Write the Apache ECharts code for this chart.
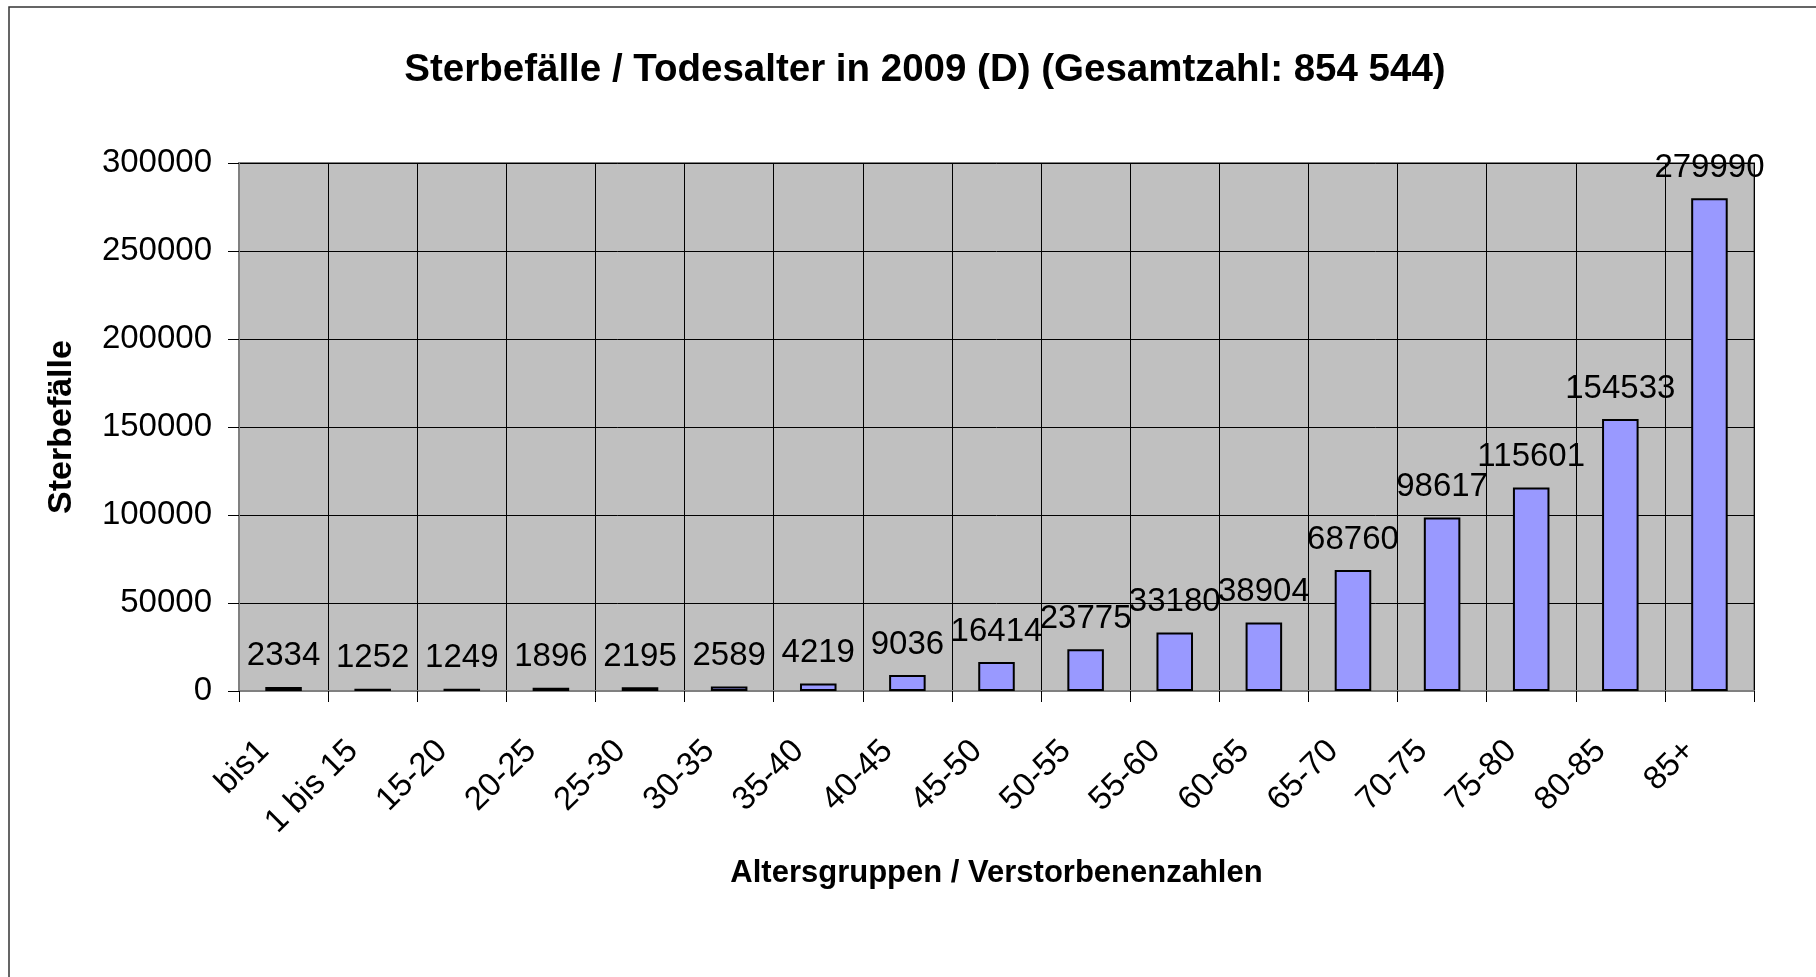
<!DOCTYPE html>
<html>
<head>
<meta charset="utf-8">
<script src="https://cdn.jsdelivr.net/npm/echarts@6/dist/echarts.min.js"></script>
<style>
  html, body { margin: 0; padding: 0; background: #fff; }
  #mainBar { width: 1816px; height: 977px; }
</style>
</head>
<body>
<div id="mainBar"></div>
<script>
// Altersgruppen
var altersgruppen = ['bis1', '1 bis 15', '15-20', '20-25', '25-30', '30-35', '35-40', '40-45', '45-50',
  '50-55', '55-60', '60-65', '65-70', '70-75', '75-80', '80-85', '85+'];
// Sterbefälle je Altersgruppe
var sterbefaelle = [2334, 1252, 1249, 1896, 2195, 2589, 4219, 9036, 16414,
  23775, 33180, 38904, 68760, 98617, 115601, 154533, 279990];
// y-Achse
var yMin = 0;
var yMax = 300000;
var yStep = 50000;

var font = 'Liberation Sans, Arial, sans-serif';

var myChart = echarts.init(document.getElementById('mainBar'));

myChart.setOption({
    backgroundColor: '#ffffff',
    animation: false,
    textStyle: { fontFamily: font },
    title: {
        text: 'Sterbefälle / Todesalter in 2009 (D) (Gesamtzahl: 854 544)',
        left: 920,
        top: 46,
        textAlign: 'center',
        textStyle: { fontFamily: font, fontSize: 38.5, fontWeight: 'bold', color: '#000' }
    },
    // Rahmen der Diagrammfläche
    graphic: [{
        type: 'rect',
        shape: { x: 9, y: 7, width: 1900, height: 1100 },
        style: { fill: null, stroke: '#333', lineWidth: 1.5 },
        z: -1
    }],
    grid: {
        left: 239,
        right: 62,
        top: 163,
        bottom: 286,
        show: true,
        backgroundColor: '#c0c0c0',
        borderColor: '#808080',
        borderWidth: 2
    },
    xAxis: {
        type: 'category',
        data: altersgruppen,
        name: 'Altersgruppen / Verstorbenenzahlen',
        nameLocation: 'middle',
        nameGap: 167,
        nameTextStyle: { fontFamily: font, fontSize: 31, fontWeight: 'bold', color: '#000' },
        axisLine: { lineStyle: { color: '#808080', width: 2 } },
        axisTick: { show: true, length: 11, lineStyle: { color: '#000', width: 1 } },
        axisLabel: {
            interval: 0,
            rotate: 45,
            margin: 35,
            padding: [0, 28, 0, 0],
            fontFamily: font,
            fontSize: 33,
            color: '#000'
        },
        splitLine: { show: true, interval: 0, lineStyle: { color: '#000', width: 1 } }
    },
    yAxis: {
        type: 'value',
        min: yMin,
        max: yMax,
        interval: yStep,
        name: 'Sterbefälle',
        nameLocation: 'middle',
        nameGap: 160,
        nameRotate: 90,
        nameTextStyle: { fontFamily: font, fontSize: 34, fontWeight: 'bold', color: '#000' },
        axisLine: { show: true, lineStyle: { color: '#808080', width: 2 } },
        axisTick: { show: true, length: 11, lineStyle: { color: '#000', width: 1 } },
        axisLabel: {
            margin: 27,
            fontFamily: font,
            fontSize: 33,
            color: '#000',
            formatter: function (v) { return String(v); }
        },
        splitLine: { show: true, lineStyle: { color: '#000', width: 1 } }
    },
    series: [{
        type: 'bar',
        data: sterbefaelle,
        barWidth: '41%',
        itemStyle: { color: '#9999ff', borderColor: '#000', borderWidth: 2 },
        label: {
            show: true,
            position: 'top',
            distance: 14,
            fontFamily: font,
            fontSize: 33,
            color: '#000'
        }
    }]
});
</script>
</body>
</html>
